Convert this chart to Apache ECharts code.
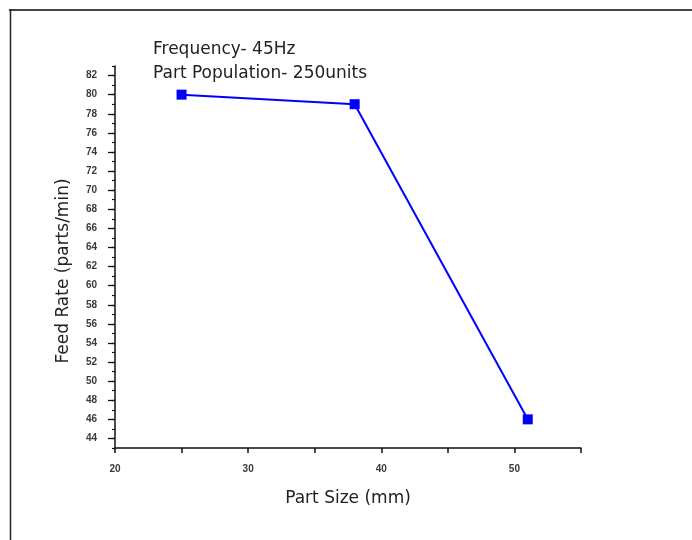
<!DOCTYPE html>
<html>
<head>
<meta charset="utf-8">
<script src="https://cdn.jsdelivr.net/npm/echarts@6/dist/echarts.min.js"></script>
<style>html,body{margin:0;padding:0;background:#fff;}#c{width:692px;height:540px;}</style>
</head>
<body>
<div id="c"></div>
<script>
// Data
var partSize = [25, 38, 51];
var feedRate = [80, 79, 46];
var yMajorTicks = [44,46,48,50,52,54,56,58,60,62,64,66,68,70,72,74,76,78,80,82];
var xLabelValues = [20, 30, 40, 50];
var annotationLines = ['Frequency- 45Hz', 'Part Population- 250units'];
var xName = 'Part Size (mm)';
var yName = 'Feed Rate (parts/min)';

var chart = echarts.init(document.getElementById('c'), null, {renderer: 'canvas'});
var textFont = 'DejaVu Sans';
var tickLabelStyle = {fontFamily: 'Liberation Sans', fontSize: 10, fontWeight: 'bold', color: '#3a3a3a'};

var option = {
  backgroundColor: '#fff',
  animation: false,
  grid: {left: 115, right: 111, top: 66, bottom: 92, containLabel: false},
  xAxis: {
    type: 'value', min: 20, max: 55, interval: 5,
    name: xName, nameLocation: 'middle', nameGap: 42,
    nameTextStyle: {fontFamily: textFont, fontSize: 17, color: '#222'},
    axisLine: {show: true, onZero: false, lineStyle: {color: '#111', width: 1.5}},
    axisTick: {show: true, inside: false, length: 5, lineStyle: {color: '#111', width: 1.5}},
    axisLabel: Object.assign({margin: 16, formatter: function (v) { return xLabelValues.indexOf(v) >= 0 ? String(v) : ''; }}, tickLabelStyle),
    splitLine: {show: false}
  },
  yAxis: [{
    type: 'value', min: 43, max: 83,
    axisLine: {show: true, onZero: false, lineStyle: {color: '#111', width: 1.5}},
    axisTick: {show: true, length: 7, customValues: yMajorTicks, lineStyle: {color: '#111', width: 1.3}},
    axisLabel: Object.assign({margin: 18, customValues: yMajorTicks}, tickLabelStyle),
    splitLine: {show: false}
  }, {
    type: 'value', min: 43, max: 83, interval: 1, position: 'left', offset: 0,
    axisLine: {show: false, onZero: false},
    axisTick: {show: true, length: 3, lineStyle: {color: '#111', width: 1.2}},
    axisLabel: {show: false},
    splitLine: {show: false}
  }],
  series: [{
    type: 'line',
    data: partSize.map(function (x, i) { return [x, feedRate[i]]; }),
    symbol: 'rect', symbolSize: 10,
    itemStyle: {color: '#0000ff'},
    lineStyle: {color: '#0000ff', width: 2}
  }],
  graphic: [
    {type: 'line', shape: {x1: 9, y1: 10, x2: 692, y2: 10}, style: {stroke: '#444', lineWidth: 2}},
    {type: 'line', shape: {x1: 10.5, y1: 9, x2: 10.5, y2: 540}, style: {stroke: '#222', lineWidth: 1.5}},
    {type: 'text', left: 153, top: 41, style: {text: annotationLines[0], font: '17px "DejaVu Sans"', fill: '#222'}},
    {type: 'text', left: 153, top: 65, style: {text: annotationLines[1], font: '17px "DejaVu Sans"', fill: '#222'}},
    {type: 'text', x: 64, y: 271, rotation: Math.PI / 2,
      style: {text: yName, font: '17px "DejaVu Sans"', fill: '#222', align: 'center', verticalAlign: 'middle'}}
  ]
};
chart.setOption(option);
</script>
</body>
</html>
